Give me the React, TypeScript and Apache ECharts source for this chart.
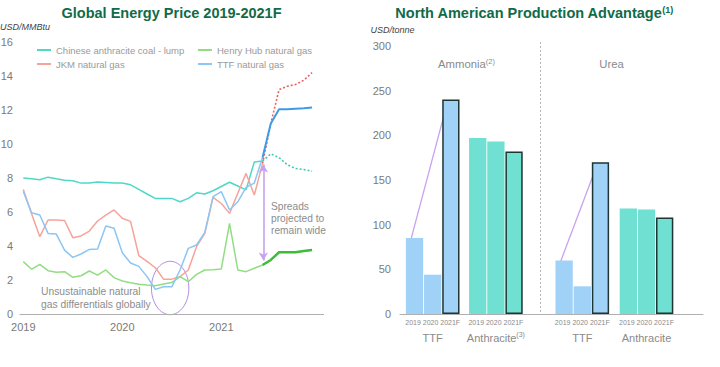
import React, { useEffect, useRef } from 'react';
import * as echarts from 'echarts';

const FONT = '"Liberation Sans", Arial, Helvetica, sans-serif';

// ---------- Left chart: monthly prices, Jan 2019 (index 0) .. Dec 2021 (index 35) ----------
const yearTicks = [0, 12, 24];
const yearLabels = ['2019', '2020', '2021'];
const forecastStart = 29;

const coalActual = [8.0, 7.95, 7.9, 8.05, 7.95, 7.87, 7.84, 7.7, 7.7, 7.76, 7.74, 7.7, 7.7, 7.6, 7.33, 7.06, 6.8, 6.8, 6.8, 6.6, 6.8, 7.13, 7.06, 7.25, 7.5, 7.75, 7.53, 7.3, 8.94, 9.0];
const coalForecast = [9.0, 9.42, 9.2, 8.78, 8.56, 8.5, 8.4];

const jkmActual = [7.33, 5.9, 4.55, 5.53, 5.53, 5.5, 4.49, 4.59, 4.88, 5.47, 5.82, 6.12, 5.63, 5.45, 3.44, 3.1, 2.72, 2.05, 2.05, 2.2, 2.59, 3.96, 4.74, 6.86, 6.5, 5.92, 7.1, 8.27, 7.0, 8.86];
const jkmForecast = [8.86, 11.2, 13.2, 13.4, 13.5, 13.75, 14.2];

const ttfActual = [7.2, 5.96, 5.82, 4.74, 4.7, 3.76, 3.33, 3.53, 3.8, 3.82, 5.18, 5.04, 3.6, 3.0, 2.8, 2.2, 1.45, 1.6, 1.6, 2.59, 3.86, 4.06, 4.8, 6.9, 7.2, 6.12, 6.6, 7.45, 7.7, 9.2];
const ttfForecast = [9.2, 11.2, 12.05, 12.05, 12.08, 12.1, 12.15];

const hhActual = [3.08, 2.63, 2.92, 2.55, 2.45, 2.49, 2.16, 2.25, 2.53, 2.29, 2.59, 2.14, 1.94, 1.84, 1.75, 1.7, 1.66, 1.76, 1.85, 2.2, 1.9, 2.33, 2.59, 2.6, 2.65, 5.33, 2.59, 2.49, 2.69, 2.88];
const hhForecast = [2.88, 3.18, 3.63, 3.63, 3.63, 3.7, 3.76];

// ---------- Right chart: USD/tonne ----------
const barYears = ['2019', '2020', '2021F'];
const groupNames = ['TTF', 'Anthracite'];
const ammoniaTTF = [85, 44, 240];
const ammoniaAnthracite = [197, 193, 182];
const ureaTTF = [60, 31, 170];
const ureaAnthracite = [118, 117, 108];

const C = {
  coal: '#4fd8c7',
  coalF: '#3ec9b5',
  jkm: '#f5a39b',
  jkmF: '#ef6060',
  ttf: '#8cc6f3',
  ttfF: '#3f9be8',
  hh: '#92dd83',
  hhF: '#3cbc37',
  barBlue: '#a0d1f7',
  barTeal: '#6fe0d1',
  border: '#1d3533',
  purple: '#c7a2ee',
  title: '#106b48',
  gray: '#8a8a8a',
};

const idx = (arr: number[], off = 0) => arr.map((v, i) => [i + off, v]);

function arrow(x1: number, y1: number, x2: number, y2: number, color: string) {
  const ang = Math.atan2(y2 - y1, x2 - x1);
  const L = 6, W = 3;
  const bx = x2 - L * Math.cos(ang), by = y2 - L * Math.sin(ang);
  const px = -Math.sin(ang) * W, py = Math.cos(ang) * W;
  return [
    { type: 'line', silent: true, shape: { x1, y1, x2: bx, y2: by }, style: { stroke: color, lineWidth: 1.3 } },
    { type: 'polygon', silent: true, shape: { points: [[x2, y2], [bx + px, by + py], [bx - px, by - py]] }, style: { fill: color } },
  ];
}

export default function App() {
  const ref = useRef<HTMLDivElement>(null);
  useEffect(() => {
    if (!ref.current) return;
    const chart = echarts.init(ref.current, undefined, { renderer: 'svg' });

    const lineS = (name: string, data: any[], color: string, width: number, type: any = 'solid', extra: any = {}) => ({
      type: 'line', name, data, xAxisIndex: 0, yAxisIndex: 0, symbol: 'none', showSymbol: false,
      itemStyle: { color }, lineStyle: { color, width, type }, z: 3, ...extra,
    });

    const barCat = (super3: boolean) => ({
      type: 'category', data: groupNames,
      axisLine: { show: false }, axisTick: { show: false },
      axisLabel: {
        margin: 3, interval: 0,
        formatter: (v: string) => `{y|${barYears.join(' ')}}\n{g|${v}}` + (super3 && v === 'Anthracite' ? '{s|(3)}' : ''),
        rich: {
          y: { fontSize: 7, color: '#8a8a8a', fontFamily: FONT, lineHeight: 10 },
          g: { fontSize: 11, color: '#8a8a8a', fontFamily: FONT, lineHeight: 22 },
          s: { fontSize: 7, color: '#8a8a8a', fontFamily: FONT, lineHeight: 22, padding: [0, 0, 7, 0] },
        },
      },
    });

    const barSeries: any[] = [];
    barYears.forEach((yr, k) => {
      const last = k === barYears.length - 1;
      const mk = (v: number, col: string) => ({
        value: v,
        itemStyle: { color: col, borderColor: last ? C.border : 'transparent', borderWidth: last ? 1.5 : 0 },
      });
      barSeries.push({
        type: 'bar', name: 'Ammonia ' + yr, xAxisIndex: 2, yAxisIndex: 2,
        barWidth: 17.3, barGap: '5%',
        data: [mk(ammoniaTTF[k], C.barBlue), mk(ammoniaAnthracite[k], C.barTeal)],
      });
      barSeries.push({
        type: 'bar', name: 'Urea ' + yr, xAxisIndex: 3, yAxisIndex: 3,
        barWidth: 17.3, barGap: '5%',
        data: [mk(ureaTTF[k], C.barBlue), mk(ureaAnthracite[k], C.barTeal)],
      });
    });

    const hiddenY = { type: 'value', min: 0, max: 300, show: false, splitLine: { show: false } };

    chart.setOption({
      animation: false,
      textStyle: { fontFamily: FONT },
      grid: [
        { left: 20, top: 42, width: 303.6, height: 272, containLabel: false, outerBoundsMode: 'none' },
        { left: 400, top: 46, width: 303, height: 268, containLabel: false, outerBoundsMode: 'none' },
        { left: 401.1, top: 46, width: 126.4, height: 268, containLabel: false, outerBoundsMode: 'none' },
        { left: 550.2, top: 46, width: 128.4, height: 268, containLabel: false, outerBoundsMode: 'none' },
      ],
      legend: [
        {
          data: ['Chinese anthracite coal - lump', 'JKM natural gas'], left: 37, top: 45, orient: 'vertical',
          padding: 0, itemGap: 4, itemWidth: 14, itemHeight: 2, icon: 'rect', selectedMode: false,
          textStyle: { color: '#9a9a9a', fontSize: 9.5, fontFamily: FONT },
        },
        {
          data: ['Henry Hub natural gas', 'TTF natural gas'], left: 198, top: 45, orient: 'vertical',
          padding: 0, itemGap: 4, itemWidth: 14, itemHeight: 2, icon: 'rect', selectedMode: false,
          textStyle: { color: '#9a9a9a', fontSize: 9.5, fontFamily: FONT },
        },
      ],
      xAxis: [
        {
          type: 'value', gridIndex: 0, min: -0.4, max: 36.4,
          splitLine: { show: false },
          axisLine: { show: true, lineStyle: { color: '#b0b0b0', width: 1 } },
          axisTick: { show: false },
          axisLabel: {
            customValues: yearTicks, margin: 7, color: '#7a7a7a', fontSize: 11, fontFamily: FONT,
            formatter: (v: number) => yearLabels[yearTicks.indexOf(Math.round(v))] ?? '',
          },
        },
        {
          type: 'value', gridIndex: 1, min: 0, max: 1,
          splitLine: { show: false }, axisTick: { show: false }, axisLabel: { show: false },
          axisLine: { show: true, lineStyle: { color: '#b0b0b0', width: 1 } },
        },
        { gridIndex: 2, ...barCat(true) },
        { gridIndex: 3, ...barCat(false) },
      ],
      yAxis: [
        {
          type: 'value', gridIndex: 0, min: 0, max: 16, interval: 2,
          splitLine: { show: false }, axisLine: { show: false }, axisTick: { show: false },
          axisLabel: { margin: 7, color: '#7a7a7a', fontSize: 11, fontFamily: FONT },
        },
        {
          type: 'value', gridIndex: 1, min: 0, max: 300, interval: 50,
          splitLine: { show: false }, axisLine: { show: false }, axisTick: { show: false },
          axisLabel: { margin: 9, color: '#7a7a7a', fontSize: 11, fontFamily: FONT },
        },
        { gridIndex: 2, ...hiddenY },
        { gridIndex: 3, ...hiddenY },
      ],
      series: [
        lineS('Chinese anthracite coal - lump', idx(coalActual), C.coal, 1.5),
        lineS('JKM natural gas', idx(jkmActual), C.jkm, 1.5),
        lineS('Henry Hub natural gas', idx(hhActual), C.hh, 1.5),
        lineS('TTF natural gas', idx(ttfActual), C.ttf, 1.5),
        lineS('coal forecast', idx(coalForecast, forecastStart), C.coalF, 1.6, [2, 2]),
        lineS('JKM forecast', idx(jkmForecast, forecastStart), C.jkmF, 1.6, [2, 2]),
        lineS('TTF forecast', idx(ttfForecast, forecastStart), C.ttfF, 2),
        lineS('HH forecast', idx(hhForecast, forecastStart), C.hhF, 2.5, 'solid', {
          markLine: {
            silent: true, symbol: ['arrow', 'arrow'], symbolSize: [7, 8],
            label: { show: false },
            lineStyle: { color: C.purple, width: 1.6, type: 'solid' },
            data: [[{ coord: [29.1, 8.8] }, { coord: [29.1, 3.15] }]],
          },
        }),
        ...barSeries,
      ],
    });

    // annotation graphics positioned through the axes
    const toL = (p: number[]) => chart.convertToPixel({ xAxisIndex: 0, yAxisIndex: 0 } as any, p) as number[];
    const ell = toL([17.8, 1.53]);
    const step = 17.3 * 1.05;
    const barArrow = (xi: number, yi: number, vals: number[]) => {
      const a = chart.convertToPixel({ xAxisIndex: xi, yAxisIndex: yi } as any, [0, vals[0]]) as number[];
      const b = chart.convertToPixel({ xAxisIndex: xi, yAxisIndex: yi } as any, [0, vals[2]]) as number[];
      return arrow(a[0] - step - 3.5, a[1] + 1, b[0] + step - 3.5, b[1] + 3, C.purple);
    };

    const txt = (x: number, y: number, text: string, style: any) => ({
      type: 'text', x, y, silent: true,
      style: { text, fontFamily: FONT, ...style },
    });

    chart.setOption({
      graphic: {
        elements: [
          txt(171.5, 13, 'Global Energy Price 2019-2021F', {
            fill: C.title, fontSize: 14.5, fontWeight: 'bold', textAlign: 'center', textVerticalAlign: 'middle',
          }),
          txt(534, 13, '{t|North American Production Advantage}{s|(1)}', {
            textAlign: 'center', textVerticalAlign: 'middle',
            rich: {
              t: { fill: C.title, fontSize: 14.5, fontWeight: 'bold', fontFamily: FONT },
              s: { fill: C.title, fontSize: 9, fontWeight: 'bold', fontFamily: FONT, padding: [0, 0, 7, 0] },
            },
          }),
          txt(0, 27, 'USD/MMBtu', { fill: '#444', fontSize: 9, fontStyle: 'italic', textVerticalAlign: 'middle' }),
          txt(370.5, 30, 'USD/tonne', { fill: '#444', fontSize: 9, fontStyle: 'italic', textVerticalAlign: 'middle' }),
          txt(271, 200, 'Spreads\nprojected to\nremain wide', { fill: '#8c8c8c', fontSize: 10.2, lineHeight: 12 }),
          txt(41, 285, 'Unsustainable natural\ngas differentials globally', { fill: '#8c8c8c', fontSize: 10.3, lineHeight: 12.7 }),
          {
            type: 'ellipse', silent: true,
            shape: { cx: ell[0], cy: ell[1], rx: 18.7, ry: 26.7 },
            style: { fill: 'none', stroke: '#b38be0', lineWidth: 1 },
          },
          txt(466.5, 64, '{a|Ammonia}{s|(2)}', {
            textAlign: 'center', textVerticalAlign: 'middle',
            rich: {
              a: { fill: '#8a8a8a', fontSize: 11.3, fontFamily: FONT },
              s: { fill: '#8a8a8a', fontSize: 7.5, fontFamily: FONT, padding: [0, 0, 6, 0] },
            },
          }),
          txt(611.5, 64, 'Urea', { fill: '#8a8a8a', fontSize: 11.3, textAlign: 'center', textVerticalAlign: 'middle' }),
          {
            type: 'line', silent: true,
            shape: { x1: 540.5, y1: 42, x2: 540.5, y2: 312 },
            style: { stroke: '#b5b5b5', lineWidth: 1, lineDash: [2, 2] },
          },
          ...barArrow(2, 2, ammoniaTTF),
          ...barArrow(3, 3, ureaTTF),
        ],
      },
    });

    return () => chart.dispose();
  }, []);

  return <div ref={ref} style={{ position: 'fixed', left: 0, top: 0, width: 720, height: 367, background: '#fff' }} />;
}
